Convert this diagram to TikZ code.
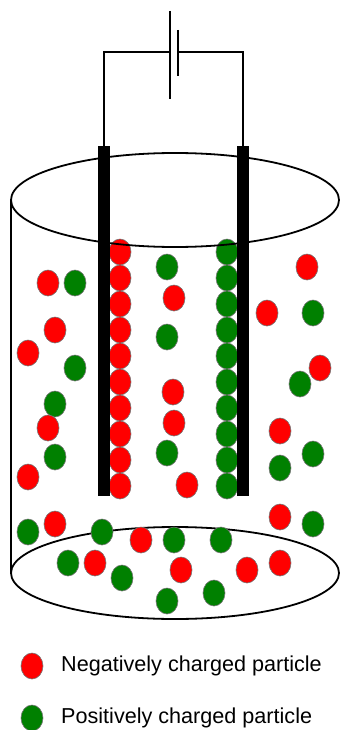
\documentclass[tikz,border=0pt]{standalone}
\usepackage{fontspec}
\setmainfont{Liberation Sans}
\usetikzlibrary{shapes.geometric}
\definecolor{negred}{RGB}{255,0,0}
\definecolor{posgreen}{RGB}{0,128,0}
\tikzset{
  particle/.style={ellipse, inner sep=0pt, minimum width=22pt, minimum height=26pt,
                   draw=black!55, line width=0.6pt},
  negion/.style={particle, fill=negred},
  posion/.style={particle, fill=posgreen},
  vessel/.style={line width=1.8pt, draw=black},
  wire/.style={line width=1.4pt, draw=black},
  electrode/.style={rectangle, fill=black, inner sep=0pt, minimum width=11.5pt, minimum height=350pt},
  legendtext/.style={anchor=base west, inner sep=0pt, font=\fontsize{21.6}{24}\selectfont}
}
\begin{document}
\begin{tikzpicture}[x=1pt, y=-1pt]
\useasboundingbox (0,0) rectangle (340,730);

% vessel: bottom rim and left wall
\draw[vessel] (175,573) ellipse [x radius=164, y radius=46];
\draw[vessel] (11,200) -- (11,573);

% particles lined up along the electrodes
\foreach \k in {0,...,9} {
  \node[negion] (a\k) at (120,252+26*\k) {};
  \node[posion] (c\k) at (227,252+26*\k) {};
}

% particles moving freely in the solution
\foreach \x/\y/\s [count=\i] in {
  48/283/negion, 75/283/posion, 167/267/posion, 307/267/negion, 174/298/negion,
  55/330/negion, 267/313/negion, 313/313/posion, 167/337/posion, 28/353/negion,
  75/368/posion, 320/368/negion, 300/384/posion, 55/404/posion, 173/392/negion,
  48/428/negion, 174/423/negion, 280/431/negion, 55/457/posion, 167/453/posion,
  313/454/posion, 280/468/posion, 28/477/negion, 187/485/negion, 28/532/posion,
  55/524/negion, 102/532/posion, 141/540/negion, 174/540/posion, 221/540/posion,
  280/517/negion, 313/524/posion, 68/563/posion, 95/563/negion, 122/578/posion,
  181/570/negion, 247/570/negion, 280/563/negion, 167/601/posion, 214/593/posion} {
  \node[\s] (f\i) at (\x,\y) {};
}

% vessel: top rim
\draw[vessel] (175,200) ellipse [x radius=164, y radius=47];

% electrodes
\node[electrode] (elL) at (104,321) {};
\node[electrode] (elR) at (243,321) {};

% battery plates and circuit
\coordinate (plateL) at (170,52);
\coordinate (plateR) at (178,52);
\draw[wire] (170,11) -- (170,99);
\draw[wire] (178,30) -- (178,76);
\draw[wire] (elL.north) |- (plateL);
\draw[wire] (elR.north) |- (plateR);

% legend
\node[negion] (keyneg) at (32,666) {};
\node[posion] (keypos) at (32,718) {};
\node[legendtext] (labneg) at (61,671) {Negatively charged particle};
\node[legendtext] (labpos) at (61,723) {Positively charged particle};
\end{tikzpicture}
\end{document}
